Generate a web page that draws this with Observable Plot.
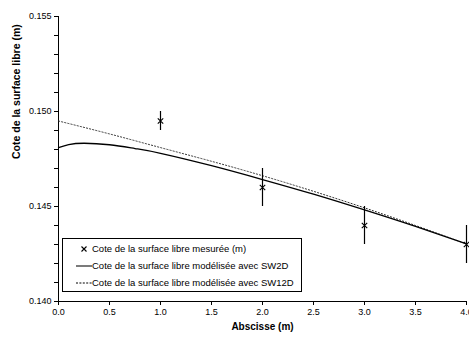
<!DOCTYPE html>
<html>
<head>
<meta charset="utf-8">
<script src="https://cdn.jsdelivr.net/npm/d3@7"></script>
<script src="https://cdn.jsdelivr.net/npm/@observablehq/plot@0.6"></script>
<style>
  html, body { margin: 0; padding: 0; background: #fff; }
  #wrap { position: relative; width: 469px; height: 341px; font-family: "Liberation Sans", Arial, sans-serif; }
  #legend { position: absolute; left: 62px; top: 238px; width: 238px; height: 52px; border: 1px solid #000; background: #fff; font-size: 9.5px; color: #000; }
  #legend .row { position: absolute; left: 0; height: 12px; line-height: 12px; white-space: nowrap; }
  #legend svg { position: absolute; left: 13px; top: 0; }
  #legend span { position: absolute; left: 29px; top: 0; }
</style>
</head>
<body>
<div id="wrap"></div>
<script>
// Measured water surface elevation
const measX = [1, 2, 3, 4];
const measY = [0.1495, 0.1460, 0.1440, 0.1430];
const measErr = [0.0005, 0.0010, 0.0010, 0.0010];

// Modelled with SW2D (solid)
const sw2dX = [0, 0.1, 0.25, 0.5, 0.75, 1.0, 1.5, 2.0, 2.5, 3.0, 3.5, 4.0];
const sw2dY = [0.1481, 0.14826, 0.14833, 0.14825, 0.14805, 0.14780, 0.14715, 0.14642, 0.14565, 0.14482, 0.14395, 0.14303];

// Modelled with SW12D (dotted)
const sw12dX = [0, 0.5, 1.0, 1.5, 2.0, 2.5, 3.0, 3.5, 4.0];
const sw12dY = [0.1495, 0.14882, 0.14810, 0.14738, 0.14662, 0.14580, 0.14493, 0.14400, 0.14303];

const xTicks = [0, 0.5, 1.0, 1.5, 2.0, 2.5, 3.0, 3.5, 4.0];
const yTicks = [0.140, 0.145, 0.150, 0.155];
const yMinor = [0.141, 0.142, 0.143, 0.144, 0.146, 0.147, 0.148, 0.149, 0.151, 0.152, 0.153, 0.154];

const legendLabels = [
  "Cote de la surface libre mesurée (m)",
  "Cote de la surface libre modélisée avec SW2D",
  "Cote de la surface libre modélisée avec SW12D"
];

const meas = measX.map((x, i) => ({x, y: measY[i], lo: measY[i] - measErr[i], hi: measY[i] + measErr[i]}));
const sw2d = sw2dX.map((x, i) => ({x, y: sw2dY[i]}));
const sw12d = sw12dX.map((x, i) => ({x, y: sw12dY[i]}));

const chart = Plot.plot({
  width: 469,
  height: 341,
  marginLeft: 58,
  marginRight: 3,
  marginTop: 16,
  marginBottom: 40,
  style: {fontFamily: "Liberation Sans, Arial, sans-serif", fontSize: "9px", color: "#000", background: "#fff"},
  x: {domain: [0, 4]},
  y: {domain: [0.140, 0.155]},
  marks: [
    Plot.axisX({ticks: xTicks, tickSize: 4, tickPadding: 3, tickFormat: d3.format(".1f"), label: null, fontSize: 9}),
    Plot.axisY({ticks: yTicks, tickSize: 4, tickPadding: 3, tickFormat: d3.format(".3f"), label: null, fontSize: 9}),
    Plot.axisY({ticks: yMinor, tickSize: 4, text: null, label: null}),
    Plot.ruleX([0], {stroke: "#000", strokeWidth: 1}),
    Plot.ruleY([0.140], {stroke: "#000", strokeWidth: 1}),
    Plot.line(sw12d, {x: "x", y: "y", curve: "natural", stroke: "#333", strokeWidth: 1, strokeDasharray: "1.2,2"}),
    Plot.line(sw2d, {x: "x", y: "y", curve: "natural", stroke: "#000", strokeWidth: 1.3}),
    Plot.ruleX(meas, {x: "x", y1: "lo", y2: "hi", stroke: "#000", strokeWidth: 1.2}),
    Plot.dot(meas, {x: "x", y: "y", symbol: "times", r: 2.6, stroke: "#000", strokeWidth: 1.1}),
    Plot.text(["Abscisse (m)"], {frameAnchor: "bottom", dy: 28, fontWeight: "bold", fontSize: 10}),
    Plot.text(["Cote de la surface libre (m)"], {frameAnchor: "left", dx: -42, rotate: -90, fontWeight: "bold", fontSize: 10.5})
  ]
});

const wrap = document.getElementById("wrap");
wrap.appendChild(chart);

const legend = document.createElement("div");
legend.id = "legend";
const swatches = [
  `<svg width="16" height="12"><path d="M5.5,3.5L10.5,8.5M10.5,3.5L5.5,8.5" stroke="#000" stroke-width="1.1"/></svg>`,
  `<svg width="16" height="12"><line x1="0" y1="6" x2="16" y2="6" stroke="#333" stroke-width="1.3"/></svg>`,
  `<svg width="16" height="12"><line x1="0" y1="6" x2="16" y2="6" stroke="#000" stroke-width="1" stroke-dasharray="2,1.4"/></svg>`
];
const tops = [4, 21, 38];
legendLabels.forEach((t, i) => {
  const row = document.createElement("div");
  row.className = "row";
  row.style.top = tops[i] + "px";
  row.innerHTML = swatches[i] + `<span>${t}</span>`;
  legend.appendChild(row);
});
wrap.appendChild(legend);
</script>
</body>
</html>
